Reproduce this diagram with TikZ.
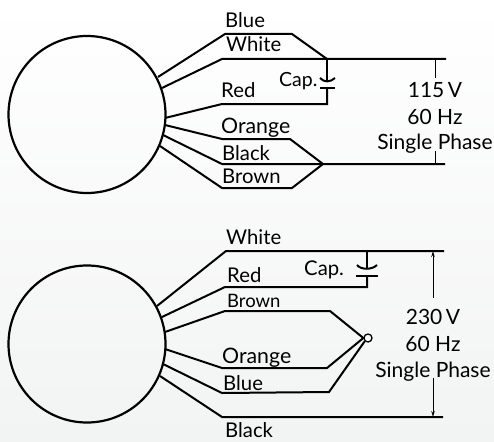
\documentclass[tikz,border=0pt]{standalone}
\usepackage{fontspec}
\usetikzlibrary{arrows.meta}
\setmainfont{Lato}
\definecolor{bgtop}{HTML}{FFFFFF}
\definecolor{bgbot}{HTML}{F2F3F3}
\begin{document}
\begin{tikzpicture}[x=1pt,y=-1pt,
  wire/.style={line width=2pt,line join=miter,black},
  motor/.style={line width=2.2pt,black},
  thin wire/.style={line width=1pt,black},
  lbl/.style={font=\fontsize{20.3}{21}\selectfont,anchor=base west,inner sep=0pt,text=black},
  lblo/.style={font=\fontsize{21.3}{22}\selectfont,anchor=base west,inner sep=0pt,text=black},
  lblc/.style={font=\fontsize{19.5}{20}\selectfont,anchor=base west,inner sep=0pt,text=black},
  lbls/.style={font=\fontsize{18.5}{19}\selectfont,anchor=base west,inner sep=0pt,text=black},
  ctr/.style={font=\fontsize{21}{22}\selectfont,anchor=base,inner sep=0pt,text=black}]
\useasboundingbox (0,0) rectangle (494,441);
\shade[top color=bgtop,bottom color=bgbot] (0,0) rectangle (494,441);
% motors
\draw[motor] (87,114.5) circle (78.5);
\draw[motor] (87,344) circle (78.5);
% top diagram junctions
\coordinate (tj) at (327,59);
\coordinate (bj) at (323,164);
\coordinate (ctop) at (327,81);
\coordinate (cbot) at (327,88);
\draw[wire] (158,77) -- (225,34) -- (292,34) -- (tj);
\draw[wire] (162,88) -- (222,59) -- (tj) -- (446,59);
\draw[wire] (tj) -- (ctop);
\draw[wire] (cbot) -- (327,104) -- (222,104) -- (165,118);
\draw[wire] (320,78) .. controls (324,82.5) and (330,82.5) .. (335,78);
\draw[wire] (320,88) -- (335,88);
\draw[wire] (165,125) -- (222,139) -- (290,139) -- (bj);
\draw[wire] (163,135) -- (222,164) -- (bj) -- (445,164);
\draw[wire] (160,146) -- (222,188) -- (292,188) -- (bj);
\coordinate (d1a) at (435,59);
\coordinate (d1b) at (435,164);
\draw[thin wire] (d1a) -- (435,78);
\draw[thin wire] (435,151) -- (d1b);
% bottom diagram
\coordinate (wj) at (367,251);
\coordinate (rj) at (367,287);
\node[circle,draw=black,line width=1.3pt,minimum size=8pt,inner sep=0pt,fill=white] (tie) at (368,338) {};
\draw[wire] (157,306) -- (226,251) -- (wj) -- (444,251);
\draw[wire] (wj) -- (367,268);
\draw[wire] (162,317) -- (225,287) -- (rj) -- (367,276);
\draw[wire] (357,265) .. controls (361,270) and (372,270) .. (377,265);
\draw[wire] (356,275.5) -- (378,275.5);
\draw[wire] (165,332) -- (225,311) -- (330,311) -- (tie.west);
\draw[wire] (165,349) -- (222,368) -- (327,368) -- (tie.west);
\draw[wire] (163,364) -- (222,393) -- (329,392) -- (tie.south west);
\draw[wire] (160,376) -- (222,417) -- (443,417);
\coordinate (d2a) at (433,251);
\coordinate (d2b) at (433,417);
\draw[thin wire,-{Stealth[length=6pt,width=3.5pt]}] (433,298) -- (d2a);
\draw[thin wire,-{Stealth[length=6pt,width=3.5pt]}] (433,378) -- (d2b);
% labels top
\node[lbl] (l1) at (225,28) {Blue};
\node[lbl] (l2) at (226,52) {White};
\node[lbl] (l3) at (221,97) {Red};
\node[lblc] (l4) at (279,87) {Cap.};
\node[lblo] (l5) at (221,133) {Orange};
\node[lbl] (l6) at (222,160) {Black};
\node[lbl] (l7) at (222,183) {Brown};
\node[ctr] (l8) at (435,97) {115\,V};
\node[ctr] (l9) at (435,124) {60 Hz};
\node[ctr] (l10) at (435,149) {Single Phase};
% labels bottom
\node[lbl] (m1) at (226,244) {White};
\node[lbl] (m2) at (227,282) {Red};
\node[lbls] (m3) at (227,307) {Brown};
\node[lblo] (m4) at (222,363) {Orange};
\node[lbl] (m5) at (223,390) {Blue};
\node[lbl] (m6) at (225,437.5) {Black};
\node[lbl] (m7) at (304,275) {Cap.};
\node[ctr] (m8) at (433,324) {230\,V};
\node[ctr] (m9) at (433,351) {60 Hz};
\node[ctr] (m10) at (433,377) {Single Phase};
\end{tikzpicture}
\end{document}
